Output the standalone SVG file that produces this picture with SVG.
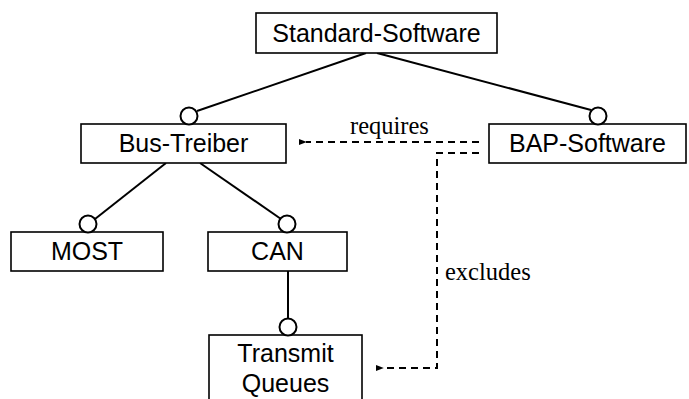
<svg xmlns="http://www.w3.org/2000/svg" width="689" height="399" viewBox="0 0 689 399">
  <style>
    .box { fill: #ffffff; stroke: #000000; stroke-width: 1.6; }
    .lbl { font-family: "Liberation Sans", Arial, sans-serif; font-size: 25px; fill: #000000; text-anchor: middle; }
    .rel { font-family: "Liberation Serif", "Times New Roman", serif; font-size: 24.5px; fill: #000000; }
    .edge { stroke: #000000; stroke-width: 2; fill: none; }
    .dash { stroke: #000000; stroke-width: 2; fill: none; stroke-dasharray: 7 5; }
    .knob { fill: #ffffff; stroke: #000000; stroke-width: 2; }
  </style>
  <defs>
    <marker id="arrow" viewBox="0 0 10 10" refX="1" refY="5" markerWidth="4" markerHeight="4" orient="auto-start-reverse">
      <path d="M10,1 L0,5 L10,9 Z" fill="#000000"/>
    </marker>
  </defs>
  <rect width="689" height="399" fill="#ffffff"/>

  <!-- tree edges and dependency relations -->
  <g id="connectors">
    <line class="edge" x1="366" y1="53" x2="197" y2="111"/>
    <line class="edge" x1="377" y1="53" x2="591" y2="110"/>
    <line class="edge" x1="166" y1="163" x2="95" y2="219"/>
    <line class="edge" x1="200" y1="163" x2="281" y2="219"/>
    <line class="edge" x1="288" y1="271" x2="288" y2="318"/>
    <path class="dash" d="M479,142 L306,142" marker-end="url(#arrow)"/>
    <path class="dash" d="M479,153 L437,153 L437,368 L383,368" marker-end="url(#arrow)"/>
    <text class="rel" x="350" y="134">requires</text>
    <text class="rel" x="445" y="280">excludes</text>
  </g>

  <g id="standard-software">
    <rect class="box" x="256" y="13" width="241" height="40"/>
    <text class="lbl" x="376.5" y="42">Standard-Software</text>
  </g>

  <g id="bus-treiber">
    <rect class="box" x="81" y="124" width="205" height="39"/>
    <circle class="knob" cx="189" cy="116" r="8.5"/>
    <text class="lbl" x="183.5" y="152">Bus-Treiber</text>
  </g>

  <g id="bap-software">
    <rect class="box" x="489" y="124" width="197" height="39"/>
    <circle class="knob" cx="598" cy="116" r="8.5"/>
    <text class="lbl" x="587.5" y="152">BAP-Software</text>
  </g>

  <g id="most">
    <rect class="box" x="11" y="232" width="152" height="39"/>
    <circle class="knob" cx="88" cy="224" r="8.5"/>
    <text class="lbl" x="87" y="260">MOST</text>
  </g>

  <g id="can">
    <rect class="box" x="208" y="232" width="139" height="39"/>
    <circle class="knob" cx="287" cy="224" r="8.5"/>
    <text class="lbl" x="277.5" y="260">CAN</text>
  </g>

  <g id="transmit-queues">
    <rect class="box" x="209" y="335" width="153" height="70"/>
    <circle class="knob" cx="288" cy="327" r="8.5"/>
    <text class="lbl" x="285.5" y="362">Transmit</text>
    <text class="lbl" x="285.5" y="392">Queues</text>
  </g>
</svg>
